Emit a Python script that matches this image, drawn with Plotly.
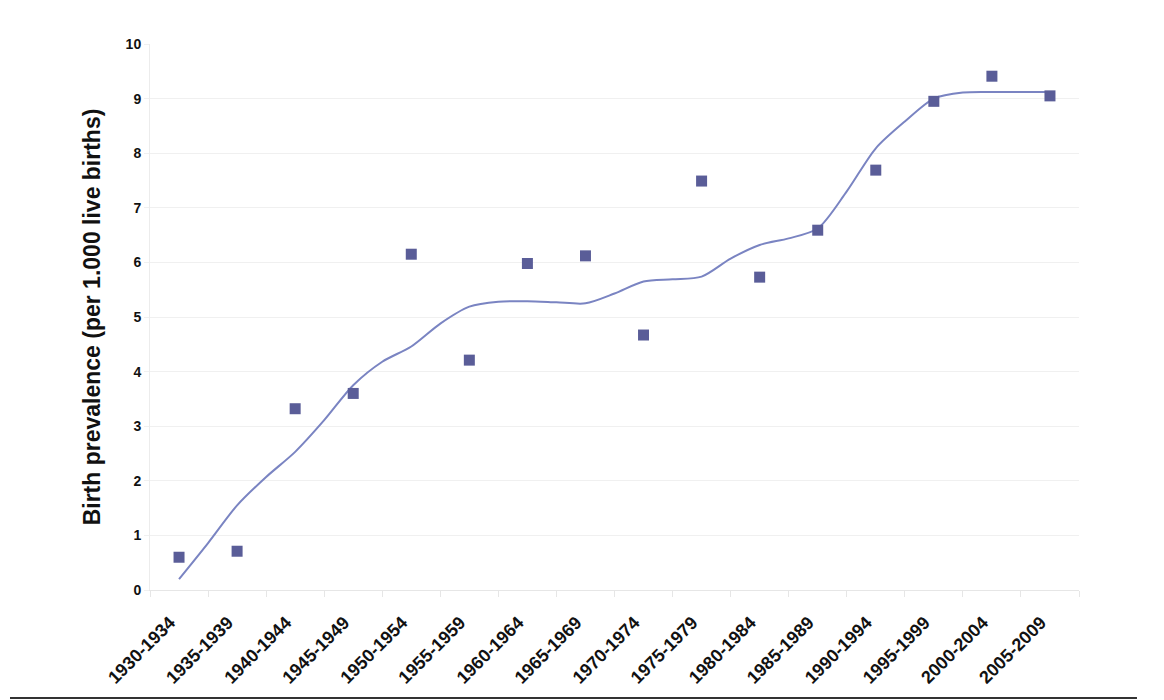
import plotly.graph_objects as go

categories = ["1930-1934", "1935-1939", "1940-1944", "1945-1949", "1950-1954",
              "1955-1959", "1960-1964", "1965-1969", "1970-1974", "1975-1979",
              "1980-1984", "1985-1989", "1990-1994", "1995-1999", "2000-2004",
              "2005-2009"]
prevalence = [0.60, 0.71, 3.32, 3.60, 6.15, 4.21, 5.98, 6.12, 4.67, 7.49,
              5.73, 6.59, 7.69, 8.95, 9.41, 9.05]
# smoothed trend, sampled every half category (from first to last category centre)
trend_pos = [i * 0.5 for i in range(31)]
trend = [0.20, 0.86, 1.55, 2.07, 2.53, 3.11, 3.75, 4.18, 4.46, 4.88,
         5.19, 5.28, 5.29, 5.27, 5.25, 5.43, 5.65, 5.69, 5.74, 6.07,
         6.32, 6.44, 6.62, 7.30, 8.09, 8.58, 9.00, 9.11, 9.12, 9.12, 9.12]
y_ticks = list(range(0, 11))

FONT = "Liberation Sans, Arial, sans-serif"

fig = go.Figure()
fig.add_trace(go.Scatter(x=trend_pos, y=trend, mode="lines",
                         line=dict(color="#7a84c2", width=2, shape="spline", smoothing=0.8),
                         showlegend=False, hoverinfo="skip"))
fig.add_trace(go.Scatter(x=list(range(len(categories))), y=prevalence, mode="markers",
                         marker=dict(symbol="square", size=11, color="#5a5d98",
                                     line=dict(width=0)),
                         showlegend=False))

fig.update_layout(
    width=1164, height=700,
    margin=dict(l=142, r=93, t=36, b=118),
    paper_bgcolor="white", plot_bgcolor="white",
    font=dict(family=FONT, color="#111"),
    xaxis=dict(range=[-0.5, len(categories) - 0.5], tickmode="array",
               tickvals=list(range(len(categories))),
               ticktext=[f"<b>{c}</b>" for c in categories],
               tickangle=-45, ticks="", showgrid=False, zeroline=False,
               tickfont=dict(size=18, family=FONT, color="#111"),
               ticklabelstandoff=14, ticklabelshift=-9,
               showline=True, linecolor="#e6e6e6", linewidth=1,
               minor=dict(tickmode="array",
                          tickvals=[i - 0.5 for i in range(len(categories) + 1)],
                          ticks="outside", ticklen=6, tickcolor="#e6e6e6", showgrid=False)),
    yaxis=dict(range=[0, 10], tickmode="array", tickvals=y_ticks,
               ticktext=[f"<b>{v}</b>" for v in y_ticks],
               tickfont=dict(size=14, color="#111"),
               showgrid=True, gridcolor="#f0f0f0", gridwidth=1,
               zeroline=False, showline=True, linecolor="#ececec",
               ticks="outside", ticklen=5, tickcolor="#f0f0f0",
               title=dict(text="<b>Birth prevalence (per 1.000 live births)</b>",
                          font=dict(size=23, color="#111"), standoff=18)),
)

fig.add_shape(type="line", xref="paper", yref="paper",
              x0=-0.1507, x1=1.0624, y0=-0.1978, y1=-0.1978,
              line=dict(color="#333", width=2))

fig.write_html("out.html")
